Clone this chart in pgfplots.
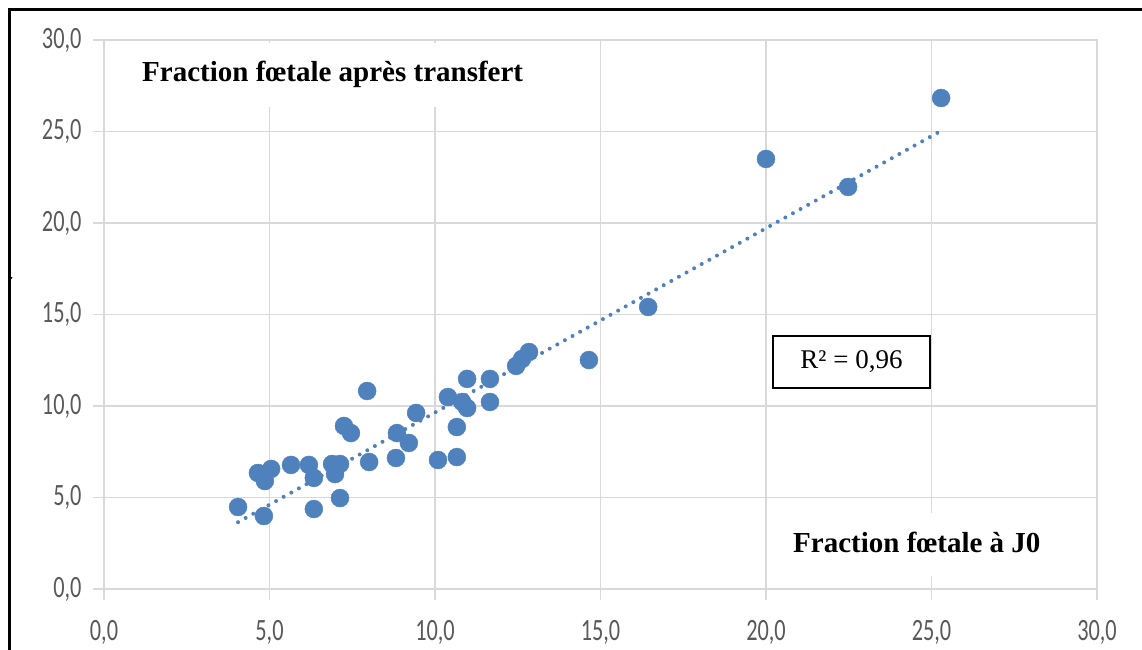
\documentclass[border=0pt]{standalone}
\usepackage{fontspec}
\setmainfont{Liberation Serif}
\newfontfamily\tickfont{Carlito}[FakeStretch=0.72]
\usepackage{pgfplots}
\pgfplotsset{compat=1.18}
\definecolor{ptblue}{RGB}{79,129,189}
\definecolor{gridgray}{RGB}{217,217,217}
\definecolor{labelgray}{RGB}{89,89,89}

\begin{document}
\begin{tikzpicture}
\useasboundingbox (0,0) rectangle (1142bp,650bp);
\begin{axis}[
    at={(104bp,61bp)}, anchor=south west,
    scale only axis, width=993bp, height=549bp,
    xmin=0, xmax=30, ymin=0, ymax=30,
    xtick={0,5,10,15,20,25,30}, ytick={0,5,10,15,20,25,30},
    grid=major,
    major grid style={gridgray, line width=1.5bp},
    axis line style={gridgray, line width=1.5bp},
    tick align=outside, major tick length=11bp,
    tick style={gridgray, line width=1.5bp},
    xtick pos=bottom, ytick pos=left,
    ticklabel style={font=\tickfont\fontsize{31bp}{33bp}\selectfont, text=labelgray},
    xticklabel style={yshift=-17bp},
    yticklabel style={xshift=-8bp},
    /pgf/number format/fixed,
    /pgf/number format/fixed zerofill,
    /pgf/number format/precision=1,
    /pgf/number format/use comma,
    /pgf/number format/assume math mode=true,
]
% trend line
\addplot[ptblue, line width=4bp, line cap=round, dash pattern=on 0bp off 8.7bp]
    coordinates {(4.05,3.65) (25.2,24.95)};
% measurements
\addplot[only marks, mark=*, mark size=9bp, mark options={draw=ptblue, fill=ptblue}]
    table {
x y
4.05 4.48
4.83 3.99
4.65 6.34
4.86 5.90
5.05 6.56
5.65 6.78
6.19 6.78
6.34 6.07
6.34 4.37
6.89 6.83
6.98 6.28
7.13 6.83
7.13 4.97
7.25 8.91
7.46 8.52
7.95 10.82
8.01 6.94
8.85 8.52
8.82 7.16
9.21 7.98
9.43 9.62
10.09 7.05
10.39 10.49
10.66 8.85
10.66 7.21
10.82 10.22
10.97 9.89
10.97 11.48
11.66 11.48
11.66 10.22
12.45 12.19
12.63 12.57
12.84 12.95
14.65 12.51
16.44 15.41
20.00 23.50
22.48 21.97
25.29 26.83
};
\end{axis}
% frame
\draw[black, line width=2.8bp] (9.5bp,0) -- (9.5bp,640.5bp) -- (1142bp,640.5bp);
\fill[black] (11.5bp,372bp) circle (1bp);
% text boxes
\fill[white] (118bp,543bp) rectangle (560bp,607bp);
\node[anchor=base west, inner sep=0, font=\bfseries\fontsize{29bp}{32bp}\selectfont]
    at (142bp,568bp) {Fraction fœtale après transfert};
\fill[white] (776bp,74bp) rectangle (1085bp,137bp);
\node[anchor=base west, inner sep=0, font=\bfseries\fontsize{29bp}{32bp}\selectfont]
    at (793bp,97bp) {Fraction fœtale à J0};
\node[draw=black, line width=2bp, fill=white, minimum width=157bp, minimum height=52bp,
    inner sep=0, font=\fontsize{27bp}{30bp}\selectfont] at (851.5bp,288bp) {R² = 0,96};
\end{tikzpicture}
\end{document}
